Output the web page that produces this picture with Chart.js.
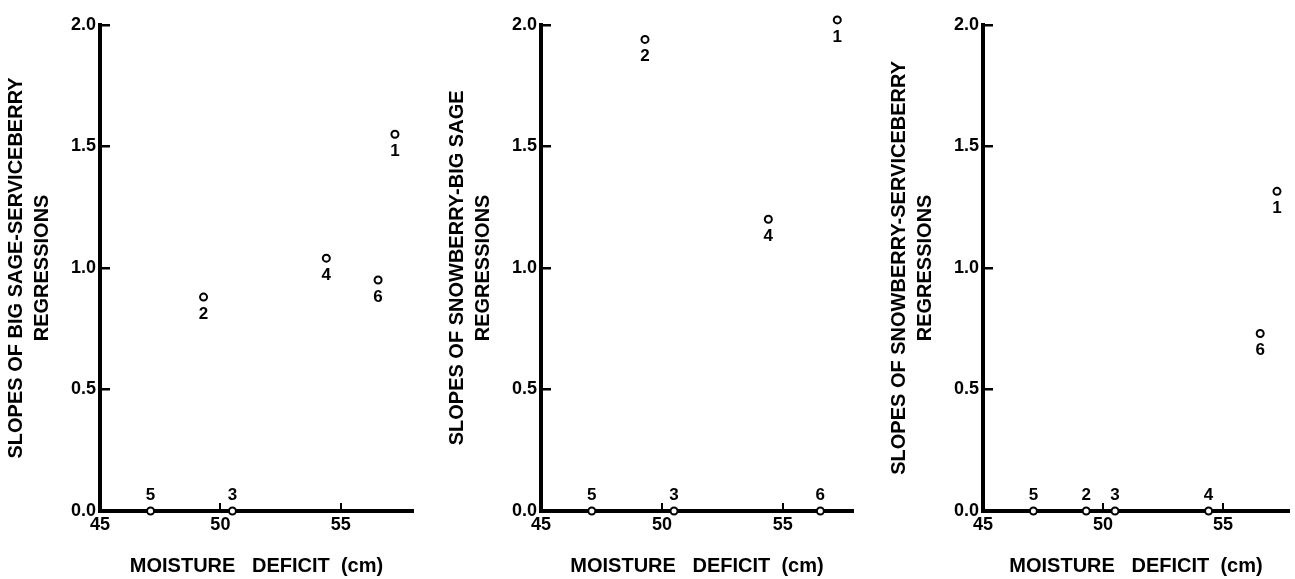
<!DOCTYPE html>
<html lang="en">
<head>
    <meta charset="UTF-8">
    <title>Regression slopes vs moisture deficit</title>
    <script src="https://cdn.jsdelivr.net/npm/chart.js"></script>
    <style>
        body {
            margin: 0;
            background: #fff;
            width: 1295px;
            height: 579px;
            position: relative;
            overflow: hidden;
        }
        canvas {
            position: absolute;
            top: 0;
        }
    </style>
</head>
<body>
    <canvas id="panelA" width="419" height="579" style="left:0px"></canvas>
    <canvas id="panelB" width="418" height="579" style="left:441px"></canvas>
    <canvas id="panelC" width="412" height="579" style="left:883px"></canvas>
    <script>
        // site numbers and their moisture deficit (cm)
        const sites = ['1', '2', '3', '4', '5', '6'];
        const moistureDeficit = [57.25, 49.3, 50.5, 54.4, 47.1, 56.55];

        // regression slopes per site
        const sageServiceberry = [1.55, 0.88, 0, 1.04, 0, 0.95];
        const snowberrySage = [2.02, 1.94, 0, 1.2, 0, 0];
        const snowberryServiceberry = [1.315, 0, 0, 0, 0, 0.73];

        const xTicks = [45, 50, 55];
        const yTicks = [0, 0.5, 1.0, 1.5, 2.0];

        const FONT = '"Liberation Sans", Arial, sans-serif';

        // writes the site number under each point (above it when on the axis)
        const siteLabels = {
            id: 'siteLabels',
            afterDatasetsDraw(chart) {
                const ctx = chart.ctx;
                const meta = chart.getDatasetMeta(0);
                const data = chart.data.datasets[0].data;
                ctx.save();
                ctx.font = 'bold 17px ' + FONT;
                ctx.fillStyle = '#000';
                ctx.textAlign = 'center';
                ctx.textBaseline = 'middle';
                meta.data.forEach((pt, i) => {
                    const dy = data[i].y === 0 ? -16 : 17;
                    ctx.fillText(sites[i], pt.x, pt.y + dy);
                });
                ctx.restore();
            }
        };

        function makePanel(id, yTitle, slopes, xMax) {
            const points = moistureDeficit.map((x, i) => ({ x: x, y: slopes[i] }));
            new Chart(document.getElementById(id), {
                type: 'scatter',
                data: {
                    datasets: [{
                        data: points,
                        pointRadius: 3.5,
                        pointBorderWidth: 2,
                        pointBackgroundColor: '#fff',
                        pointBorderColor: '#000',
                        clip: false
                    }]
                },
                options: {
                    responsive: false,
                    animation: false,
                    layout: { padding: { top: 22, right: 6, bottom: 0, left: 0 } },
                    plugins: {
                        legend: { display: false },
                        tooltip: { enabled: false }
                    },
                    scales: {
                        x: {
                            type: 'linear',
                            min: 45,
                            max: xMax,
                            afterBuildTicks: s => { s.ticks = xTicks.map(v => ({ value: v })); },
                            afterFit: s => { s.height = 68; },
                            border: { color: '#000', width: 4 },
                            grid: { drawOnChartArea: false, color: '#000', lineWidth: 2, tickLength: -8 },
                            ticks: {
                                color: '#000',
                                padding: 11,
                                maxRotation: 0,
                                font: { family: FONT, size: 18, weight: 'bold' }
                            },
                            title: {
                                display: true,
                                text: 'MOISTURE   DEFICIT  (cm)',
                                color: '#000',
                                padding: 0,
                                font: { family: FONT, size: 20, weight: 'bold', lineHeight: 1.25 }
                            }
                        },
                        y: {
                            min: 0,
                            max: 2,
                            afterBuildTicks: s => { s.ticks = yTicks.map(v => ({ value: v })); },
                            afterFit: s => { s.width = 100; },
                            border: { color: '#000', width: 4 },
                            grid: { drawOnChartArea: false, color: '#000', lineWidth: 2.5, tickLength: -10 },
                            ticks: {
                                color: '#000',
                                padding: 14,
                                font: { family: FONT, size: 18, weight: 'bold' },
                                callback: v => v.toFixed(1)
                            },
                            title: {
                                display: true,
                                text: yTitle,
                                color: '#000',
                                padding: { top: 3, bottom: 0 },
                                font: { family: FONT, size: 20, weight: 'bold', lineHeight: 1.32 }
                            }
                        }
                    }
                },
                plugins: [siteLabels]
            });
        }

        makePanel('panelA', ['SLOPES OF BIG SAGE-SERVICEBERRY', 'REGRESSIONS'], sageServiceberry, 58);
        makePanel('panelB', ['SLOPES OF SNOWBERRY-BIG SAGE', 'REGRESSIONS'], snowberrySage, 57.9);
        makePanel('panelC', ['SLOPES OF SNOWBERRY-SERVICEBERRY', 'REGRESSIONS'], snowberryServiceberry, 57.75);
    </script>
</body>
</html>
